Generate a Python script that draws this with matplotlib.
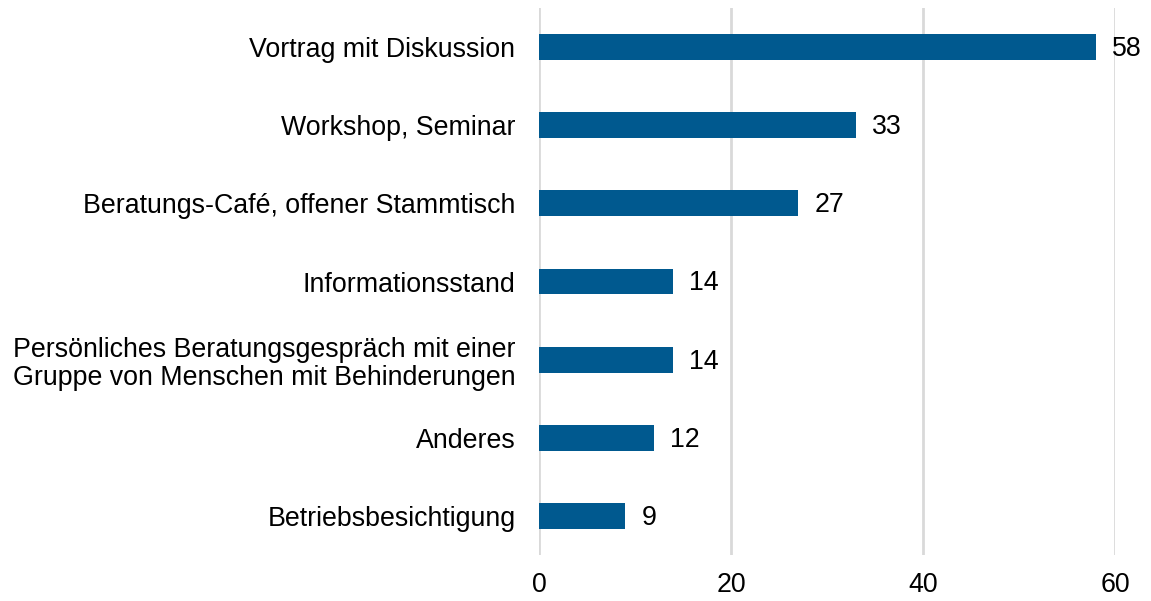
import matplotlib.pyplot as plt

kategorien = ["Vortrag mit Diskussion", "Workshop, Seminar",
              "Beratungs-Café, offener Stammtisch", "Informationsstand",
              "Persönliches Beratungsgespräch mit einer\nGruppe von Menschen mit Behinderungen",
              "Anderes", "Betriebsbesichtigung"]
werte = [58, 33, 27, 14, 14, 12, 9]
xticks = [0, 20, 40, 60]

plt.rcParams['font.family'] = ['Liberation Sans', 'DejaVu Sans']
fs = 19.3

fig = plt.figure(figsize=(11.51, 6.01), dpi=100)
ax = fig.add_axes([539/1151, 1 - 555/601, (1115 - 539)/1151, (555 - 8)/601])

pos = list(range(len(kategorien)))
ax.barh(pos, werte, height=0.33, color='#00598f', zorder=3)
for p, w in zip(pos, werte):
    ax.annotate(str(w), (w, p), xytext=(16, -2), textcoords='offset pixels',
                va='center', ha='left', fontsize=fs)

ax.set_xlim(0, 60)
ax.set_ylim(len(kategorien) - 0.5, -0.5)
ax.set_yticks(pos)
ax.set_yticklabels(kategorien, fontsize=fs, linespacing=1.1)
ax.set_xticks(xticks)
ax.set_xticklabels([str(t) for t in xticks], fontsize=fs)
ax.tick_params(axis='both', length=0)
ax.tick_params(axis='y', pad=17)
ax.tick_params(axis='x', pad=12)
ax.grid(axis='x', color='#d9d9d9', linewidth=2, zorder=0)
for s in ax.spines.values():
    s.set_visible(False)

fig.savefig('out.png', dpi=100)
